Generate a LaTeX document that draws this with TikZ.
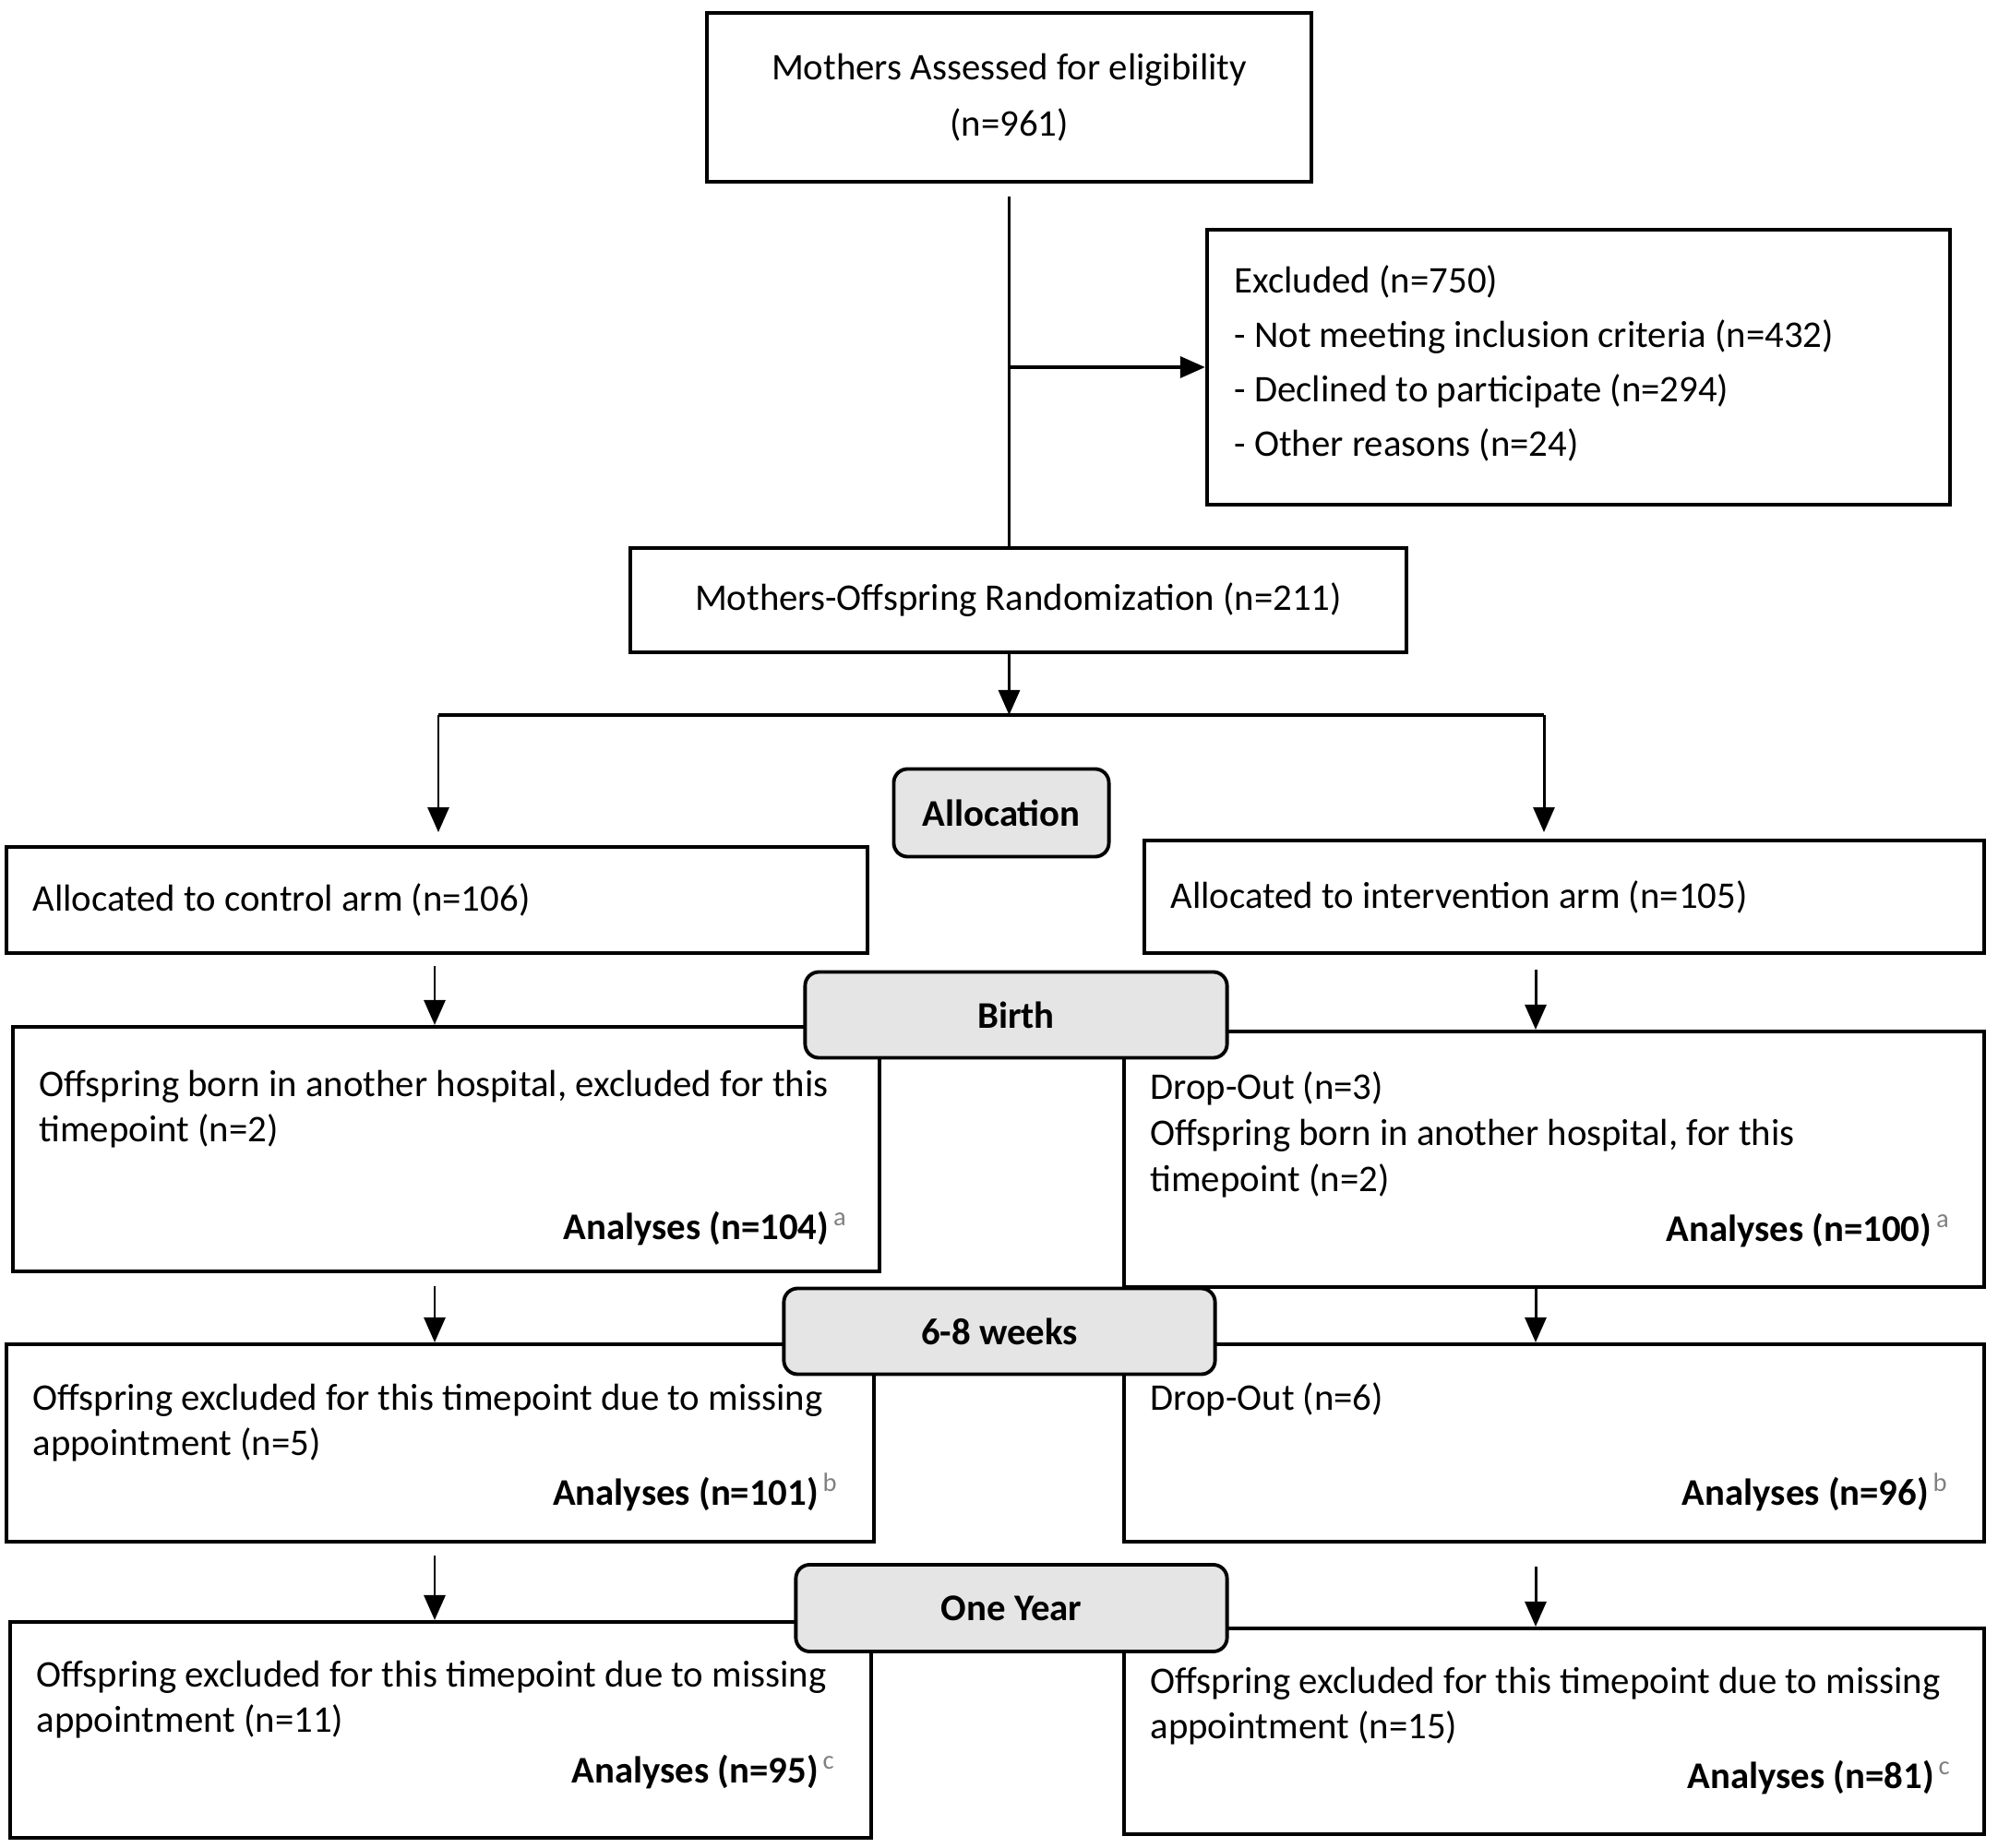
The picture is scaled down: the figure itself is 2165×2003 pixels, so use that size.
\documentclass[tikz,border=0pt]{standalone}
\usepackage{fontspec}
\setmainfont{Carlito}
\usetikzlibrary{positioning,arrows.meta}

\newcommand{\bodyfont}{\fontsize{11.6}{14.2}\selectfont}
\newcommand{\anote}[1]{\textsuperscript{\,\normalfont\color{gray}#1}}

\tikzset{
  box/.style={draw, line width=1.1pt, inner sep=0pt},
  stage/.style={draw, line width=1.1pt, fill=gray!20, rounded corners=0.15cm, font=\bodyfont\bfseries},
  txt/.style={inner sep=0pt, align=left, font=\bodyfont},
  res/.style={inner sep=0pt, font=\bodyfont\bfseries},
  arr/.style={line width=0.85pt, -{Triangle[length=0.27cm,width=0.23cm]}},
}

\begin{document}
\begin{tikzpicture}[x=0.01cm, y=-0.01cm, font=\bodyfont]
\useasboundingbox (0,0) rectangle (2165,2003);

% enrolment
\node[box, minimum width=6.55cm, minimum height=1.83cm, align=center] (assess) at (1093.5,105.5)
  {Mothers Assessed for eligibility\\[3pt](n=961)};
\node[box, minimum width=8.05cm, minimum height=2.98cm] (excl) at (1710.5,398) {};
\node[txt, right=0.31cm of excl.west, yshift=0.04cm] (excltxt)
  {Excluded (n=750)\\[2.5pt]- Not meeting inclusion criteria (n=432)\\[2.5pt]- Declined to participate (n=294)\\[2.5pt]- Other reasons (n=24)};
\node[box, minimum width=8.41cm, minimum height=1.13cm] (rand) at (1103.5,650.5)
  {Mothers-Offspring Randomization (n=211)};

% allocation
\node[box, minimum width=9.33cm, minimum height=1.15cm] (ctlalloc) at (473.5,975.5) {};
\node[txt, right=0.3cm of ctlalloc.west] (ctlalloctxt) {Allocated to control arm (n=106)};
\node[box, minimum width=9.10cm, minimum height=1.22cm] (intalloc) at (1695,972) {};
\node[txt, right=0.3cm of intalloc.west] (intalloctxt) {Allocated to intervention arm (n=105)};

% follow-up boxes
\node[box, minimum width=9.39cm, minimum height=2.65cm] (ctlbirth) at (483.5,1245.5) {};
\node[box, minimum width=9.32cm, minimum height=2.77cm] (intbirth) at (1684,1256.5) {};
\node[box, minimum width=9.40cm, minimum height=2.14cm] (ctlweeks) at (477,1564) {};
\node[box, minimum width=9.32cm, minimum height=2.14cm] (intweeks) at (1684,1564) {};
\node[box, minimum width=9.33cm, minimum height=2.34cm] (ctlyear) at (477.5,1875) {};
\node[box, minimum width=9.32cm, minimum height=2.23cm] (intyear) at (1684,1876.5) {};

\node[txt, below right=0.48cm and 0.3cm of ctlbirth.north west] (ctlbirthtxt)
  {Offspring born in another hospital, excluded for this\\timepoint (n=2)};
\node[txt, below right=0.45cm and 0.3cm of intbirth.north west] (intbirthtxt)
  {Drop-Out (n=3)\\Offspring born in another hospital, for this\\timepoint (n=2)};
\node[txt, below right=0.44cm and 0.3cm of ctlweeks.north west] (ctlweekstxt)
  {Offspring excluded for this timepoint due to missing\\appointment (n=5)};
\node[txt, below right=0.43cm and 0.3cm of intweeks.north west] (intweekstxt)
  {Drop-Out (n=6)};
\node[txt, below right=0.43cm and 0.3cm of ctlyear.north west] (ctlyeartxt)
  {Offspring excluded for this timepoint due to missing\\appointment (n=11)};
\node[txt, below right=0.43cm and 0.3cm of intyear.north west] (intyeartxt)
  {Offspring excluded for this timepoint due to missing\\appointment (n=15)};

\node[res, above left=0.29cm and 0.36cm of ctlbirth.south east] (ctlbirthres) {Analyses (n=104)\anote{a}};
\node[res, above left=0.44cm and 0.38cm of intbirth.south east] (intbirthres) {Analyses (n=100)\anote{a}};
\node[res, above left=0.34cm and 0.40cm of ctlweeks.south east] (ctlweeksres) {Analyses (n=101)\anote{b}};
\node[res, above left=0.34cm and 0.40cm of intweeks.south east] (intweeksres) {Analyses (n=96)\anote{b}};
\node[res, above left=0.54cm and 0.40cm of ctlyear.south east] (ctlyearres) {Analyses (n=95)\anote{c}};
\node[res, above left=0.44cm and 0.37cm of intyear.south east] (intyearres) {Analyses (n=81)\anote{c}};

% connectors
\coordinate (split) at (1093.5,775);
\coordinate (splitL) at (475,775);
\coordinate (splitR) at (1673,775);
\coordinate (colL) at (471,1040);
\coordinate (colR) at (1664,1040);

\draw[line width=0.85pt, shorten <=0.14cm] (assess.south) -- (assess.south |- rand.north);
\draw[arr, line width=1pt] (assess.south |- excl.west) -- (excl.west);
\draw[arr] (assess.south |- rand.south) -- (split);
\draw[line width=1pt] (splitL) -- (splitR);
\draw[arr, shorten >=0.14cm] (splitL) -- (splitL |- ctlalloc.north);
\draw[arr, shorten >=0.07cm] (splitR) -- (splitR |- intalloc.north);

\draw[arr, shorten <=0.12cm] (ctlalloc.south -| colL) -- (ctlbirth.north -| colL);
\draw[arr, shorten <=0.16cm] (intalloc.south -| colR) -- (intbirth.north -| colR);
\draw[arr, shorten <=0.14cm] (ctlbirth.south -| colL) -- (ctlweeks.north -| colL);
\draw[arr] (intbirth.south -| colR) -- (intweeks.north -| colR);
\draw[arr, shorten <=0.13cm] (ctlweeks.south -| colL) -- (ctlyear.north -| colL);
\draw[arr, shorten <=0.25cm] (intweeks.south -| colR) -- (intyear.north -| colR);

% stage labels
\node[stage, minimum width=2.33cm, minimum height=0.95cm] (alloc) at (1085,881) {Allocation};
\node[stage, minimum width=4.57cm, minimum height=0.93cm] (birth) at (1101,1100) {Birth};
\node[stage, minimum width=4.67cm, minimum height=0.93cm] (weeks) at (1083,1443) {6-8 weeks};
\node[stage, minimum width=4.67cm, minimum height=0.94cm] (year) at (1096,1743) {One Year};
\end{tikzpicture}
\end{document}
